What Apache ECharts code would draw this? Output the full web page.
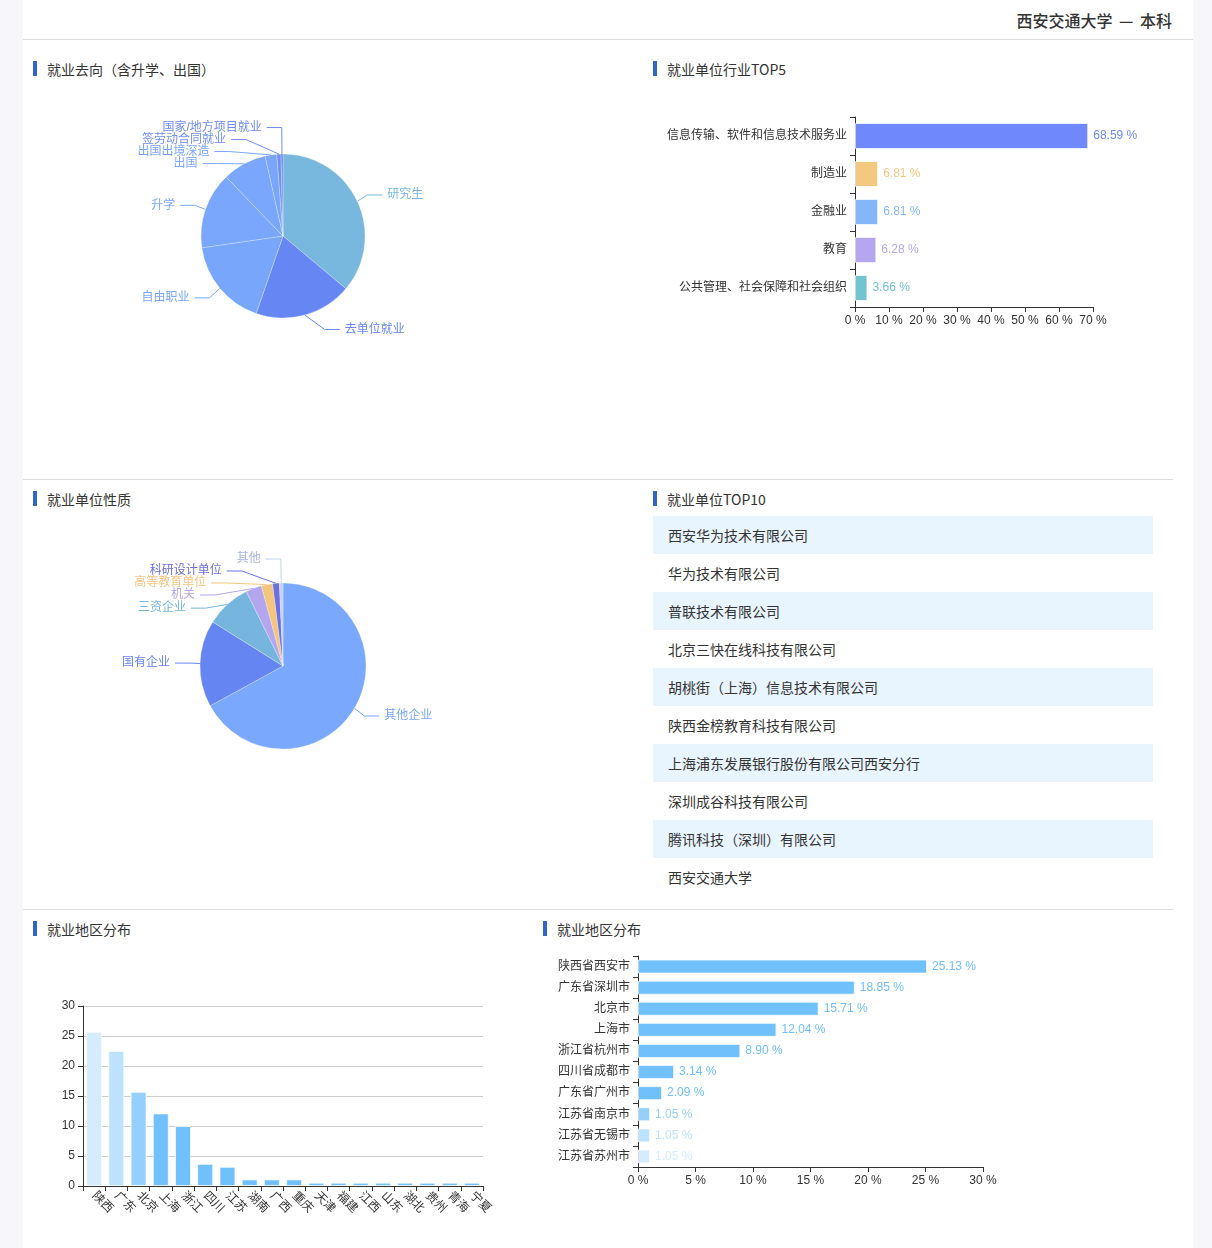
<!DOCTYPE html>
<html><head><meta charset="utf-8">
<script src="https://cdn.jsdelivr.net/npm/echarts@6/dist/echarts.min.js"></script>
<style>
html,body{margin:0;padding:0;background:#f6f6fb;width:1212px;height:1248px;overflow:hidden;font-family:"Noto Sans CJK SC","Noto Sans",sans-serif;}
#wrap{position:absolute;left:23px;top:0;width:1170px;height:1248px;background:#fff;}
#chart{position:absolute;left:0;top:0;width:1212px;height:1248px;}
.hline{position:absolute;height:1px;background:#dcdcdc;}
.head{position:absolute;right:40px;top:8px;font-size:16px;color:#333;font-weight:500;line-height:24px;white-space:pre;word-spacing:3px;}
.sec{position:absolute;font-size:14px;color:#333;line-height:20px;}
.sec:before{content:"";position:absolute;left:-14px;top:2px;width:4px;height:15px;background:#2f66c8;}
.row{position:absolute;left:653px;width:500px;height:38px;line-height:38px;font-size:14px;color:#333;box-sizing:border-box;padding-left:15px;}
.row.s{background:#e8f4fe;}
</style></head>
<body>
<div id="wrap"></div>
<div class="hline" style="left:23px;top:39px;width:1170px;"></div>
<div class="hline" style="left:23px;top:479px;width:1150px;"></div>
<div class="hline" style="left:23px;top:909px;width:1150px;"></div>
<div class="head">西安交通大学 — 本科</div>
<div class="sec" style="left:47px;top:59px;">就业去向（含升学、出国）</div>
<div class="sec" style="left:667px;top:59px;">就业单位行业TOP5</div>
<div class="sec" style="left:47px;top:489px;">就业单位性质</div>
<div class="sec" style="left:667px;top:489px;">就业单位TOP10</div>
<div class="sec" style="left:47px;top:919px;">就业地区分布</div>
<div class="sec" style="left:557px;top:919px;">就业地区分布</div>
<div id="list"></div>
<div id="chart"></div>
<script>
// ---- data ----
const destNames = ['研究生','去单位就业','自由职业','升学','出国','出国出境深造','签劳动合同就业','国家/地方项目就业'];
const destValues = [36.1, 19.2, 17.4, 15.1, 8.7, 2.3, 0.8, 0.4];
const destColors = ['#78b7de','#6687f3','#78a6fb','#7aa7fb','#7aa7fb','#79a6fb','#6f8ff3','#6f8af2'];

const indNames = ['信息传输、软件和信息技术服务业','制造业','金融业','教育','公共管理、社会保障和社会组织'];
const indValues = [68.59, 6.81, 6.81, 6.28, 3.66];
const indColors = ['#6f88fc','#f3c880','#84b6fa','#b6a6ef','#72c4cf'];
const indTicks = [0,10,20,30,40,50,60,70];

const natNames = ['其他企业','国有企业','三资企业','机关','高等教育单位','科研设计单位','其他'];
const natValues = [67.1, 16.9, 8.8, 3.1, 2.2, 1.3, 0.7];
const natColors = ['#79a8fd','#6585f2','#76b6de','#b4a5ef','#f3c57f','#6b6fdf','#c4d0f5'];
const natLabelColors = ['#79a8fd','#6585f2','#76b6de','#b4a5ef','#f3c57f','#6b6fdf','#a9b3e3'];

const topCompanies = ['西安华为技术有限公司','华为技术有限公司','普联技术有限公司','北京三快在线科技有限公司','胡桃街（上海）信息技术有限公司','陕西金榜教育科技有限公司','上海浦东发展银行股份有限公司西安分行','深圳成谷科技有限公司','腾讯科技（深圳）有限公司','西安交通大学'];

const provNames = ['陕西','广东','北京','上海','浙江','四川','江苏','湖南','广西','重庆','天津','福建','江西','山东','湖北','贵州','青海','宁夏'];
const provValues = [25.7, 22.5, 15.7, 12.1, 10.0, 3.7, 3.2, 1.1, 1.1, 1.1, 0.55, 0.55, 0.55, 0.55, 0.55, 0.55, 0.55, 0.55];
const provTicks = [0,5,10,15,20,25,30];

const cityNames = ['江苏省苏州市','江苏省无锡市','江苏省南京市','广东省广州市','四川省成都市','浙江省杭州市','上海市','北京市','广东省深圳市','陕西省西安市'];
const cityValues = [1.05, 1.05, 1.05, 2.09, 3.14, 8.90, 12.04, 15.71, 18.85, 25.13];
const cityTicks = [0,5,10,15,20,25,30];

const rankColors = ['#d4ecfd','#bde2fd','#95d0fc','#6fc0fb'];

// ---- list ----
const list = document.getElementById('list');
topCompanies.forEach((n,i)=>{
  const d=document.createElement('div');
  d.className='row'+(i%2===0?' s':'');
  d.style.top=(516+i*38)+'px';
  d.textContent=n;
  list.appendChild(d);
});

// classic (v4-style) outside pie label arrangement
function classicPieLabels(values, cx, cy, r, len, len2, h, viewH){
  const sum = values.reduce((a,b)=>a+b,0);
  let cur = -Math.PI/2;
  const items = values.map((v,i)=>{
    const a = v/sum*Math.PI*2;
    const mid = cur + a/2; cur += a;
    const dx = Math.cos(mid), dy = Math.sin(mid);
    const x1=cx+r*dx, y1=cy+r*dy, x2=cx+(r+len)*dx, y2=cy+(r+len)*dy;
    const x3 = x2 + (dx<0?-1:1)*len2;
    return {i, x:x3+(dx<0?-5:5), y:y2, height:h, len, len2, left:dx<0, lp:[[x1,y1],[x2,y2],[x3,y2]]};
  });
  function adjust(list, dir){
    list.sort((a,b)=>a.y-b.y);
    function shiftUp(end, delta){
      for(let j=end;j>=0;j--){
        if(list[j].y-delta<0) break;
        list[j].y-=delta;
        if(j>0 && list[j].y>list[j-1].y+list[j-1].height) break;
      }
    }
    function shiftDown(start,end,delta){
      for(let j=start;j<end;j++){
        if(list[j].y+delta>viewH) break;
        list[j].y+=delta;
        if(j>start && j+1<end && list[j+1].y>list[j].y+list[j].height){ shiftUp(j,delta/2); return; }
      }
      shiftUp(end-1,delta/2);
    }
    function changeX(sub,isDown){
      let last = isDown?Number.MAX_VALUE:0;
      sub.forEach(it=>{
        const dY=Math.abs(it.y-cy);
        let dX = dY<r+it.len ? Math.sqrt((r+it.len+it.len2)*(r+it.len+it.len2)-dY*dY) : Math.abs(it.x-cx);
        if(isDown && dX>=last) dX=last-10;
        if(!isDown && dX<=last) dX=last+10;
        it.x=cx+dX*dir; last=dX;
      });
    }
    let lastY=0; const n=list.length;
    for(let i=0;i<n;i++){
      const d=list[i].y-lastY;
      if(d<0) shiftDown(i,n,-d);
      lastY=list[i].y+list[i].height;
    }
    const up=[],down=[];
    list.forEach(it=>(it.y>=cy?down:up).push(it));
    changeX(up,false); changeX(down,true);
  }
  const L=[],R=[];
  items.forEach(it=>(it.x<cx?L:R).push(it));
  adjust(R,1); adjust(L,-1);
  items.forEach(it=>{
    const dist=it.lp[1][0]-it.lp[2][0];
    it.lp[2][0]= it.x<cx ? it.x+5 : it.x-5;
    it.lp[1][0]= it.lp[2][0]+dist;
    it.lp[1][1]=it.lp[2][1]=it.y;
  });
  return items;
}
const PIE1 = {cx:283, cy:236, r:82};
const PIE2 = {cx:283, cy:666, r:83};
const pie1Lbl = classicPieLabels(destValues, PIE1.cx, PIE1.cy, PIE1.r, 15, 15, 12, 1248);
const pie2Lbl = classicPieLabels(natValues, PIE2.cx, PIE2.cy, PIE2.r, 15, 15, 12, 1248);
const lblFn = arr => p => { const it = arr[p.dataIndex]; return {x:it.x, y:it.y, align: it.left?'right':'left', verticalAlign:'middle', labelLinePoints: it.lp.map(q=>q.slice())}; };

const FONT = 'Arial, "Liberation Sans", "Noto Sans CJK SC", sans-serif';
const axisLbl = {color:'#333', fontSize:12, fontFamily:FONT};
const axLine = {show:true, lineStyle:{color:'#333'}};
const border = {borderColor:'rgba(255,255,255,0.7)', borderWidth:1};
const rc = i => rankColors[Math.min(i, rankColors.length-1)];

const chart = echarts.init(document.getElementById('chart'), null, {renderer:'canvas'});
chart.setOption({
  animation:false,
  textStyle:{fontFamily:FONT},
  grid:[
    {left:855, top:117, width:238, height:190, containLabel:false},
    {left:83, top:1006, width:400, height:180, containLabel:false},
    {left:638, top:956, width:345, height:211, containLabel:false}
  ],
  xAxis:[
    {gridIndex:0, type:'value', min:indTicks[0], max:indTicks[indTicks.length-1], interval:10,
     axisLine:axLine, axisTick:{show:true}, splitLine:{show:false},
     axisLabel:Object.assign({formatter:'{value} %'}, axisLbl)},
    {gridIndex:1, type:'category', data:provNames, axisLine:axLine, axisTick:{show:true},
     axisLabel:Object.assign({rotate:-45, interval:0}, axisLbl)},
    {gridIndex:2, type:'value', min:cityTicks[0], max:cityTicks[cityTicks.length-1], interval:5,
     axisLine:axLine, axisTick:{show:true}, splitLine:{show:false},
     axisLabel:Object.assign({formatter:'{value} %'}, axisLbl)}
  ],
  yAxis:[
    {gridIndex:0, type:'category', data:indNames, inverse:true, axisLine:axLine, axisTick:{show:true}, axisLabel:axisLbl},
    {gridIndex:1, type:'value', min:provTicks[0], max:provTicks[provTicks.length-1], interval:5,
     axisLine:axLine, axisTick:{show:true}, splitLine:{lineStyle:{color:'#ccc'}}, axisLabel:axisLbl},
    {gridIndex:2, type:'category', data:cityNames, axisLine:axLine, axisTick:{show:true}, axisLabel:axisLbl}
  ],
  series:[
    {type:'pie', center:[PIE1.cx,PIE1.cy], radius:[0,PIE1.r], startAngle:90,
     data:destNames.map((n,i)=>({name:n, value:destValues[i],
        itemStyle:{color:destColors[i]}, label:{color:destColors[i]}})),
     itemStyle:{borderColor:'rgba(255,255,255,0.5)', borderWidth:0.5},
     label:{fontSize:12, fontFamily:FONT},
     labelLine:{length:15, length2:15},
     labelLayout: lblFn(pie1Lbl)},
    {type:'pie', center:[PIE2.cx,PIE2.cy], radius:[0,PIE2.r], startAngle:90,
     data:natNames.map((n,i)=>({name:n, value:natValues[i],
        itemStyle:{color:natColors[i]}, label:{color:natLabelColors[i]}})),
     itemStyle:{borderColor:'rgba(255,255,255,0.5)', borderWidth:0.5},
     label:{fontSize:12, fontFamily:FONT},
     labelLine:{length:15, length2:15},
     labelLayout: lblFn(pie2Lbl)},
    {type:'bar', xAxisIndex:0, yAxisIndex:0, barWidth:26,
     data:indValues.map((v,i)=>({value:v, itemStyle:Object.assign({color:indColors[i]}, border),
        label:{color:indColors[i]}})),
     label:{show:true, position:'right', fontSize:12, fontFamily:FONT, formatter:p=>p.value.toFixed(2)+' %'}},
    {type:'bar', xAxisIndex:1, yAxisIndex:1, barWidth:16,
     data:provValues.map((v,i)=>({value:v, itemStyle:Object.assign({color:rc(i)}, border)}))},
    {type:'bar', xAxisIndex:2, yAxisIndex:2, barWidth:14,
     data:cityValues.map((v,i)=>({value:v, itemStyle:Object.assign({color:rc(i)}, border),
        label:{color:rc(i)}})),
     label:{show:true, position:'right', fontSize:12, fontFamily:FONT, formatter:p=>p.value.toFixed(2)+' %'}}
  ]
});
</script>
</body></html>
